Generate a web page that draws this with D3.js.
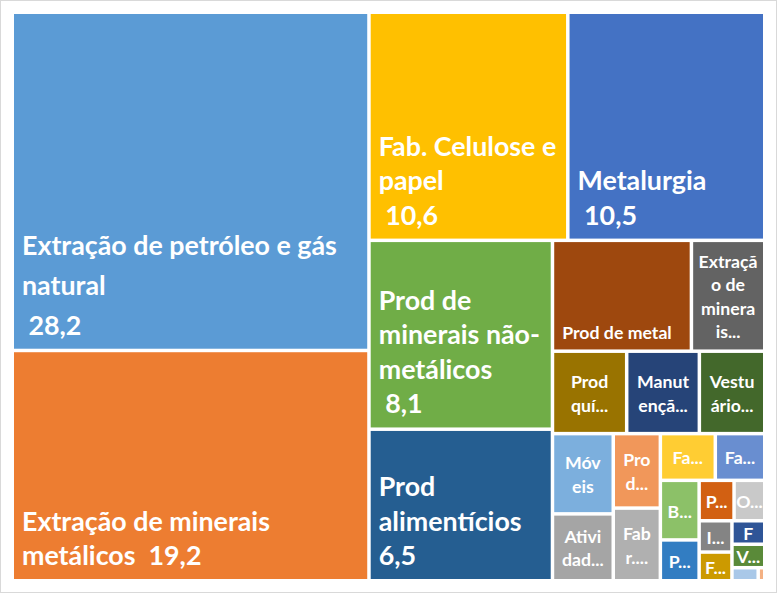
<!DOCTYPE html>
<html>
<head>
<meta charset="utf-8">
<script src="https://cdn.jsdelivr.net/npm/d3@7"></script>
<style>
  html, body { margin: 0; padding: 0; background: #fff; }
  svg { display: block; }
  .lbl { font-family: Lato, "Open Sans", sans-serif; font-weight: 700; fill: #fff; white-space: pre; }
</style>
</head>
<body>
<svg id="chart" width="777" height="593"></svg>
<script>
// ---------------- data ----------------
const categories = [
  "Extração de petróleo e gás natural",
  "Extração de minerais metálicos",
  "Fab. Celulose e papel",
  "Metalurgia",
  "Prod de minerais não-metálicos",
  "Prod alimentícios",
  "Prod de metal",
  "Extração de minerais...",
  "Prod quí...",
  "Manutenção...",
  "Vestuário...",
  "Móveis",
  "Atividad...",
  "Prod...",
  "Fabr....",
  "Fa... (1)",
  "Fa... (2)",
  "B...",
  "P... (1)",
  "P... (2)",
  "O...",
  "I...",
  "F... (1)",
  "F (2)",
  "V...",
  "Outros (1)",
  "Outros (2)"
];

const values = [
  28.2, 19.2, 10.6, 10.5, 8.1, 6.5,
  3.6, 1.9, 1.43, 1.40, 1.26, 1.14, 0.95, 0.82, 0.80,
  0.60, 0.54, 0.54, 0.37, 0.33, 0.29, 0.24, 0.22, 0.18, 0.18, 0.08, 0.02
];

// label lines as displayed; {v} is replaced by the formatted value
const labelLines = [
  ["Extração de petróleo e gás", "natural", " {v}"],
  ["Extração de minerais", "metálicos  {v}"],
  ["Fab. Celulose e", "papel", " {v}"],
  ["Metalurgia", " {v}"],
  ["Prod de", "minerais não-", "metálicos", " {v}"],
  ["Prod", "alimentícios", "{v}"],
  ["Prod de metal"],
  ["Extraçã", "o de", "minera", "is..."],
  ["Prod", "quí..."],
  ["Manut", "ençã..."],
  ["Vestu", "ário..."],
  ["Móv", "eis"],
  ["Ativi", "dad..."],
  ["Pro", "d..."],
  ["Fab", "r...."],
  ["Fa..."],
  ["Fa..."],
  ["B..."],
  ["P..."],
  ["P..."],
  ["O..."],
  ["I..."],
  ["F..."],
  ["F"],
  ["V..."],
  [],
  []
];

const colors = [
  "#5B9BD5", "#ED7D31", "#FFC000", "#4472C4", "#70AD47", "#255E91",
  "#9E480E", "#636363", "#997300", "#264478", "#43682B", "#7CAFDD",
  "#A5A5A5", "#F1975A", "#B0B0B0", "#FFCD33", "#698ED0", "#8CC168",
  "#327DC2", "#D26012", "#C9C9C9", "#848484", "#CC9A00", "#2F5597",
  "#5A8A39", "#A9C8E8", "#F4B183"
];

// ---------------- layout ----------------
const W = 777, H = 593;
const M = { left: 14, top: 14, right: 14, bottom: 14 };
const innerW = 749, innerH = 565;

const svg = d3.select("#chart");

svg.append("rect")
  .attr("x", 0.5).attr("y", 0.5)
  .attr("width", W - 1).attr("height", H - 1)
  .attr("fill", "#fff").attr("stroke", "#D9D9D9");

const root = d3.hierarchy({
  children: categories.map((c, i) => ({ name: c, value: values[i], i }))
}).sum(d => d.value || 0);

d3.treemap()
  .tile(d3.treemapSquarify.ratio(1))
  .size([innerW, innerH])
  .paddingInner(3.5)
  .round(false)(root);

const fmt = v => d3.format(".1f")(v).replace(".", ",");

const g = svg.append("g").attr("transform", `translate(${M.left},${M.top})`);

const leaves = g.selectAll("g.cell")
  .data(root.leaves())
  .join("g")
  .attr("class", "cell");

leaves.append("clipPath")
  .attr("id", d => "clip" + d.data.i)
  .append("rect")
  .attr("x", d => d.x0).attr("y", d => d.y0)
  .attr("width", d => d.x1 - d.x0).attr("height", d => d.y1 - d.y0);

leaves.append("rect")
  .attr("x", d => d.x0).attr("y", d => d.y0)
  .attr("width", d => d.x1 - d.x0)
  .attr("height", d => d.y1 - d.y0)
  .attr("fill", d => colors[d.data.i]);

leaves.each(function(d) {
  const lines = labelLines[d.data.i].map(s => s.replace("{v}", fmt(d.data.value)));
  if (!lines.length) return;
  const big = d.data.value >= 5;
  const w = d.x1 - d.x0, h = d.y1 - d.y0;
  const fs = big ? 26.8 : 17.7;
  const lh = big ? (h > 300 ? 40 : 34.5) : 23.5;
  const n = lines.length;
  let xs, anchor, firstBase;
  if (big || w >= 100) {
    xs = d.x0 + 8;
    anchor = "start";
    const lastBase = d.y1 - (big ? 14 : 10);
    firstBase = lastBase - (n - 1) * lh;
  } else {
    xs = (d.x0 + d.x1) / 2;
    anchor = "middle";
    const cy = (d.y0 + d.y1) / 2 + 1;
    firstBase = cy - (n - 1) * lh / 2 + fs * 0.36;
  }
  const t = d3.select(this).append("text")
    .attr("class", "lbl")
    .attr("clip-path", `url(#clip${d.data.i})`)
    .attr("font-size", fs)
    .attr("text-anchor", anchor);
  lines.forEach((s, k) => {
    t.append("tspan")
      .attr("x", xs)
      .attr("y", firstBase + k * lh)
      .text(s);
  });
});
</script>
</body>
</html>
